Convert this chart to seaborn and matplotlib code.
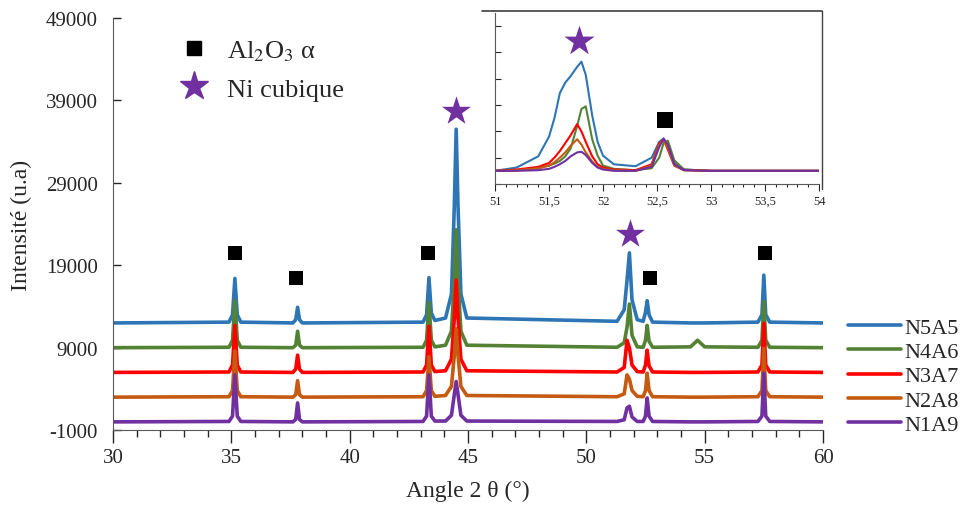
import matplotlib
matplotlib.use("Agg")
import matplotlib.pyplot as plt
from matplotlib.lines import Line2D
import seaborn as sns

# diffractogram sampled at peak points (angle 2theta, intensity)
angle = [30.0, 34.9, 35.05, 35.15, 35.25, 35.4,
         37.6, 37.72, 37.8, 37.88, 38.0,
         43.1, 43.25, 43.35, 43.45, 43.6,
         44.05, 44.3, 44.42, 44.5, 44.58, 44.7, 44.95,
         51.3, 51.6, 51.72, 51.82, 51.93, 52.15,
         52.4, 52.5, 52.57, 52.65, 52.8,
         54.4, 54.7, 55.0,
         57.25, 57.42, 57.5, 57.58, 57.75, 60.0]

n5a5 = [12000, 12100, 13000, 17400, 13000, 12100,
        12000, 12400, 13900, 12400, 12000,
        12100, 13000, 17500, 13200, 12300,
        12600, 15500, 26000, 35500, 26000, 15500, 12600,
        12200, 13600, 17200, 20500, 14800, 12400,
        12200, 13300, 14700, 13000, 12100,
        12000, 12000, 12000,
        12100, 13000, 17800, 13000, 12100, 12000]
n4a6 = [9000, 9050, 9900, 14700, 9900, 9050,
        9000, 9300, 11000, 9300, 9000,
        9050, 9900, 14500, 9900, 9100,
        9300, 11000, 17000, 23300, 17000, 11000, 9300,
        9050, 9600, 11500, 14300, 10500, 9100,
        9050, 9900, 11700, 9800, 9050,
        9100, 9900, 9100,
        9050, 9900, 14600, 9900, 9050, 9000]
n3a7 = [6000, 6050, 6900, 11700, 6900, 6050,
        6000, 6400, 8100, 6400, 6000,
        6050, 6900, 11600, 6900, 6100,
        6200, 7600, 12500, 17200, 12500, 7600, 6200,
        6050, 6600, 9900, 9000, 6900, 6100,
        6050, 6900, 8700, 6800, 6050,
        6000, 6000, 6000,
        6050, 6900, 11950, 6900, 6050, 6000]
n2a8 = [3000, 3050, 3800, 8600, 3800, 3050,
        3000, 3300, 5000, 3300, 3000,
        3050, 3800, 7900, 3800, 3100,
        3200, 4300, 8000, 11300, 8000, 4300, 3200,
        3050, 3400, 5700, 5200, 3800, 3100,
        3050, 3800, 5900, 3800, 3050,
        3000, 3000, 3000,
        3050, 3800, 8900, 3800, 3050, 3000]
n1a9 = [0, 50, 700, 5700, 700, 50,
        0, 300, 2300, 300, 0,
        50, 700, 5700, 700, 100,
        100, 800, 3300, 4900, 3300, 800, 100,
        50, 250, 1700, 1900, 600, 50,
        50, 700, 2900, 700, 50,
        0, 0, 0,
        50, 700, 5900, 700, 50, 0]

# zoom on 51-54 (inset, no offset)
angle_zoom = [51.0, 51.2, 51.4, 51.5, 51.55, 51.6, 51.65, 51.7, 51.76, 51.8, 51.84, 51.9, 51.95,
              52.0, 52.1, 52.3, 52.45, 52.52, 52.56, 52.6, 52.66, 52.75, 53.0, 54.0]
z_n5a5 = [1000, 1250, 2100, 3600, 5000, 6900, 7700, 8200, 8900, 9300, 8300, 5200, 3200,
          2150, 1500, 1350, 2000, 3200, 3450, 2900, 1600, 1100, 1000, 1000]
z_n4a6 = [1000, 1050, 1200, 1400, 1550, 1750, 2100, 2700, 4400, 5700, 5900, 3400, 2150,
          1400, 1150, 1050, 1200, 2000, 3100, 3300, 1800, 1100, 1000, 1000]
z_n3a7 = [1000, 1100, 1300, 1600, 2000, 2500, 3100, 3700, 4550, 4000, 3200, 2100, 1500,
          1250, 1100, 1050, 1500, 3100, 3400, 2600, 1400, 1050, 1000, 1000]
z_n2a8 = [1000, 1050, 1200, 1400, 1650, 2000, 2400, 2900, 3400, 3000, 2400, 1700, 1300,
          1150, 1050, 1000, 1400, 3000, 3400, 2700, 1400, 1050, 1000, 1000]
z_n1a9 = [1000, 1000, 1050, 1150, 1300, 1500, 1750, 2100, 2400, 2450, 2200, 1600, 1250,
          1100, 1000, 1000, 1300, 2800, 3450, 3000, 1500, 1050, 1000, 1000]

labels = ["N5A5", "N4A6", "N3A7", "N2A8", "N1A9"]
colors = ["#2E75B6", "#548235", "#FF0000", "#C55A11", "#7030A0"]

# phase markers
alumina_x = [35.17, 37.75, 43.3, 52.67, 57.55]
alumina_y = [20500, 17500, 20500, 17500, 20500]
nickel_x = [44.5, 51.85]
nickel_y = [37700, 22800]
zoom_alumina = ([52.57], [4900])
zoom_nickel = ([51.78], [10900])

sns.set_style("ticks")
plt.rcParams['font.family'] = ['Liberation Serif', 'DejaVu Serif']
plt.rcParams['mathtext.fontset'] = 'stix'
plt.rcParams['axes.unicode_minus'] = False

fig = plt.figure(figsize=(9.61, 5.06), dpi=100)
ax = fig.add_axes([0.1176, 0.148, 0.7388, 0.8145])

series = [n5a5, n4a6, n3a7, n2a8, n1a9]
for y, lab, col in zip(series, labels, colors):
    sns.lineplot(x=angle, y=y, color=col, lw=2.6, label=lab, ax=ax)

sns.scatterplot(x=alumina_x, y=alumina_y, marker='s', color='black', s=110,
                linewidth=0, ax=ax)
sns.scatterplot(x=nickel_x, y=nickel_y, marker='*', color='#7030A0', s=480,
                linewidth=0, ax=ax)

ax.set_xlim(30, 60)
ax.set_ylim(-1000, 49000)
ax.set_xticks(range(30, 61, 5))
ax.set_xticks(range(30, 61, 1), minor=True)
ax.set_yticks(range(-1000, 49001, 10000))
ax.tick_params(axis='x', direction='out', length=9, width=1, labelsize=15, pad=4)
ax.tick_params(axis='x', which='minor', direction='out', length=5, width=1)
ax.tick_params(axis='y', direction='in', length=6, width=1, labelsize=15, pad=11)
ax.set_xlabel("Angle 2 θ (°)", fontsize=17, labelpad=9)
ax.set_ylabel("Intensité (u.a)", fontsize=17, labelpad=10)
sns.despine(ax=ax)
for s in ["left", "bottom"]:
    ax.spines[s].set_color("#595959")

handles, labs = ax.get_legend_handles_labels()
ax.legend(handles[:5], labs[:5], loc='upper left',
          bbox_to_anchor=(0.882, 0.371), bbox_transform=fig.transFigure,
          frameon=False, fontsize=16, handlelength=2.4, handletextpad=0.15,
          labelspacing=0.17, borderpad=0, borderaxespad=0)

phase_handles = [Line2D([], [], marker='s', color='black', ls='', ms=10),
                 Line2D([], [], marker='*', color='#7030A0', ls='', ms=21)]
fig.legend(phase_handles, ["Al$_2$O$_3$ α", "Ni cubique"], loc='upper left',
           bbox_to_anchor=(0.174, 0.923), frameon=False, fontsize=19,
           handletextpad=0.25, labelspacing=0.55, borderpad=0, borderaxespad=0)

# inset
axin = fig.add_axes([0.5151, 0.6344, 0.3372, 0.338])
zoom_series = [z_n5a5, z_n4a6, z_n3a7, z_n2a8, z_n1a9]
for y, col in zip(zoom_series, colors):
    sns.lineplot(x=angle_zoom, y=y, color=col, lw=1.5, ax=axin, legend=False)
sns.scatterplot(x=zoom_alumina[0], y=zoom_alumina[1], marker='s', color='black',
                s=130, linewidth=0, ax=axin)
sns.scatterplot(x=zoom_nickel[0], y=zoom_nickel[1], marker='*', color='#7030A0',
                s=520, linewidth=0, ax=axin)
axin.set_xlim(51, 54)
axin.set_ylim(0, 13000)
axin.set_xticks([51, 51.5, 52, 52.5, 53, 53.5, 54])
axin.set_xticklabels(["51", "51,5", "52", "52,5", "53", "53,5", "54"])
axin.set_xticks([51 + 0.1 * i for i in range(31)], minor=True)
axin.set_yticks(range(0, 13001, 2000))
axin.set_yticklabels([])
axin.tick_params(axis='x', direction='out', length=5, width=0.8, labelsize=9, pad=3)
axin.tick_params(axis='x', which='minor', direction='out', length=2.5, width=0.8)
axin.tick_params(axis='y', direction='in', length=4, width=0.8)
axin.set_xlabel("")
axin.set_ylabel("")
sns.despine(ax=axin)
for s in ["left", "bottom"]:
    axin.spines[s].set_color("#595959")

# inset frame (top and right edges)
fig.add_artist(Line2D([482 / 961, 822 / 961], [1 - 12 / 506, 1 - 12 / 506],
                      color='#404040', lw=1.2))
fig.add_artist(Line2D([822 / 961, 822 / 961], [1 - 12 / 506, 1 - 190 / 506],
                      color='#404040', lw=1.0))

fig.savefig("out.png", dpi=100)
